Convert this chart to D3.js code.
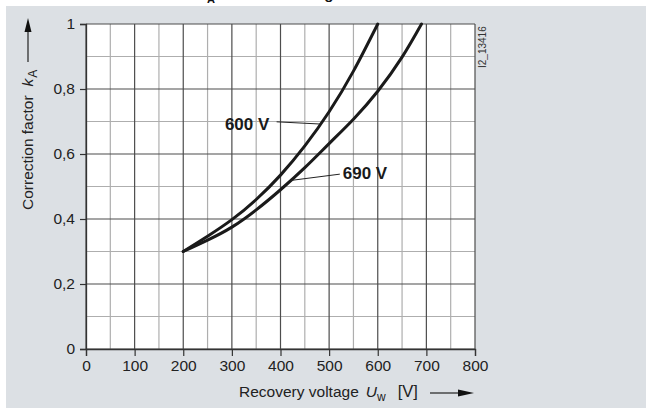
<!DOCTYPE html>
<html>
<head>
<meta charset="utf-8">
<script src="https://cdn.jsdelivr.net/npm/d3@7"></script>
<style>
  body { margin: 0; background: #fff; }
  svg { display: block; }
  text { font-family: "Liberation Sans", Arial, sans-serif; }
</style>
</head>
<body>
<div id="chart"></div>
<script>
// values: recovery voltage U_w [V] -> correction factor k_A
var u600 = [200, 250, 300, 350, 400, 450, 500, 550, 600];
var k600 = [0.30, 0.347, 0.398, 0.46, 0.535, 0.625, 0.73, 0.855, 1.0];
var u690 = [200, 250, 300, 350, 400, 450, 500, 550, 600, 650, 690];
var k690 = [0.30, 0.335, 0.375, 0.428, 0.49, 0.558, 0.632, 0.707, 0.793, 0.898, 1.0];
var curveNames = ["600 V", "690 V"];
var xTicks = [0, 100, 200, 300, 400, 500, 600, 700, 800];
var yTicks = [0, 0.2, 0.4, 0.6, 0.8, 1];

var width = 646, height = 408;
var margin = {top: 24, right: 171, bottom: 59, left: 86},
    w = width - margin.left - margin.right,
    h = height - margin.top - margin.bottom;

var svg = d3.select("#chart")
    .append("svg")
    .attr("width", width)
    .attr("height", height);

// title line is cut off by the grey panel, only its bottom shows
var title = svg.append("g")
    .style("font-weight", "bold")
    .style("font-size", "15px")
    .attr("fill", "#111");
title.append("text").attr("x", 206).attr("y", -1).attr("text-anchor", "end").text("Correction factor k");
title.append("text").attr("x", 207).attr("y", 3).style("font-size", "11px").text("A");
title.append("text").attr("x", 220).attr("y", -1).text("for the breaking I²t value");

svg.append("rect")
    .attr("x", 6).attr("y", 6)
    .attr("width", width - 6).attr("height", height - 6)
    .attr("fill", "#dce0e4");

var g = svg.append("g")
    .attr("transform", "translate(" + margin.left + "," + margin.top + ")");

var x = d3.scaleLinear().domain([0, 800]).range([0, w]);
var y = d3.scaleLinear().domain([0, 1]).range([h, 0]);

g.append("rect").attr("width", w).attr("height", h).attr("fill", "#fff");

// minor grid
g.selectAll(".vminor")
    .data(d3.range(50, 800, 100))
    .enter().append("line")
    .attr("x1", d => x(d)).attr("x2", d => x(d))
    .attr("y1", 0).attr("y2", h)
    .attr("stroke", "#aeaeae").attr("stroke-width", 1.2);
g.selectAll(".hminor")
    .data(d3.range(0.1, 1, 0.2))
    .enter().append("line")
    .attr("x1", 0).attr("x2", w)
    .attr("y1", d => y(d)).attr("y2", d => y(d))
    .attr("stroke", "#aeaeae").attr("stroke-width", 1.2);

// major grid
g.selectAll(".vmajor")
    .data(xTicks)
    .enter().append("line")
    .attr("x1", d => x(d)).attr("x2", d => x(d))
    .attr("y1", 0).attr("y2", h)
    .attr("stroke", "#4d4d4d").attr("stroke-width", 1.2);
g.selectAll(".hmajor")
    .data(yTicks)
    .enter().append("line")
    .attr("x1", 0).attr("x2", w)
    .attr("y1", d => y(d)).attr("y2", d => y(d))
    .attr("stroke", "#4d4d4d").attr("stroke-width", 1.2);

// axes
var xAxis = g.append("g")
    .attr("transform", "translate(0," + h + ")")
    .call(d3.axisBottom(x).tickValues(xTicks).tickSize(7).tickPadding(4));
var yAxis = g.append("g")
    .call(d3.axisLeft(y).tickValues(yTicks).tickSize(6).tickPadding(5)
        .tickFormat(d => String(d).replace(".", ",")));

[xAxis, yAxis].forEach(function (a) {
    a.select(".domain").attr("stroke", "#333").attr("stroke-width", 1.3);
    a.selectAll(".tick line").attr("stroke", "#333").attr("stroke-width", 1.2);
    a.selectAll(".tick text")
        .attr("fill", "#222")
        .style("font-size", "15.5px")
        .style("font-family", '"Liberation Sans", Arial, sans-serif');
});

// curves
var line = d3.line()
    .x(d => x(d[0]))
    .y(d => y(d[1]))
    .curve(d3.curveNatural);

var series = [d3.zip(u600, k600), d3.zip(u690, k690)];

g.selectAll(".curve")
    .data(series)
    .enter().append("path")
    .attr("d", line)
    .attr("fill", "none")
    .attr("stroke", "#1a1a1a")
    .attr("stroke-width", 3)
    .attr("stroke-linecap", "round");

// curve labels with leader lines
function kAt(us, ks, u) {
    var i = d3.bisectLeft(us, u);
    if (i <= 0) return ks[0];
    var t = (u - us[i - 1]) / (us[i] - us[i - 1]);
    return ks[i - 1] + t * (ks[i] - ks[i - 1]);
}

var notes = [
    {name: curveNames[0], us: u600, ks: k600, tx: 377, ty: 0.674, anchor: "end", lx: 392, ly: 0.699, cu: 482},
    {name: curveNames[1], us: u690, ks: k690, tx: 528, ty: 0.523, anchor: "start", lx: 522, ly: 0.538, cu: 421}
];

notes.forEach(function (n) {
    g.append("line")
        .attr("x1", x(n.lx)).attr("y1", y(n.ly))
        .attr("x2", x(n.cu)).attr("y2", y(kAt(n.us, n.ks, n.cu)))
        .attr("stroke", "#222").attr("stroke-width", 1);
    g.append("text")
        .attr("x", x(n.tx)).attr("y", y(n.ty))
        .attr("text-anchor", n.anchor)
        .style("font-size", "17px")
        .style("font-weight", "bold")
        .attr("fill", "#1a1a1a")
        .text(n.name);
});

// axis titles
var yt = svg.append("text")
    .attr("transform", "translate(33,210) rotate(-90)")
    .style("font-size", "15.5px")
    .attr("fill", "#222");
yt.append("tspan").text("Correction factor");
yt.append("tspan").attr("dx", 9).style("font-style", "italic").text("k");
yt.append("tspan").attr("dx", 1).attr("dy", 4).style("font-size", "12px").text("A");

svg.append("line").attr("x1", 28).attr("x2", 28).attr("y1", 62).attr("y2", 30)
    .attr("stroke", "#222").attr("stroke-width", 1.2);
svg.append("path").attr("d", "M28,18L24.5,32L31.5,32Z").attr("fill", "#111");

var xt = svg.append("text")
    .attr("x", 239).attr("y", 397)
    .style("font-size", "15.5px")
    .attr("fill", "#222");
xt.append("tspan").text("Recovery voltage");
xt.append("tspan").attr("dx", 7).style("font-style", "italic").text("U");
xt.append("tspan").attr("dy", 4).style("font-size", "12px").text("w");
xt.append("tspan").attr("dx", 12).attr("dy", -4).style("font-size", "16.5px").text("[V]");

svg.append("line").attr("x1", 430).attr("x2", 460).attr("y1", 393).attr("y2", 393)
    .attr("stroke", "#222").attr("stroke-width", 1.2);
svg.append("path").attr("d", "M474,393L458,389.5L458,396.5Z").attr("fill", "#111");

// drawing number
svg.append("text")
    .attr("transform", "translate(486,68) rotate(-90)")
    .style("font-size", "10px")
    .attr("fill", "#333")
    .text("I2_13416");
</script>
</body>
</html>
